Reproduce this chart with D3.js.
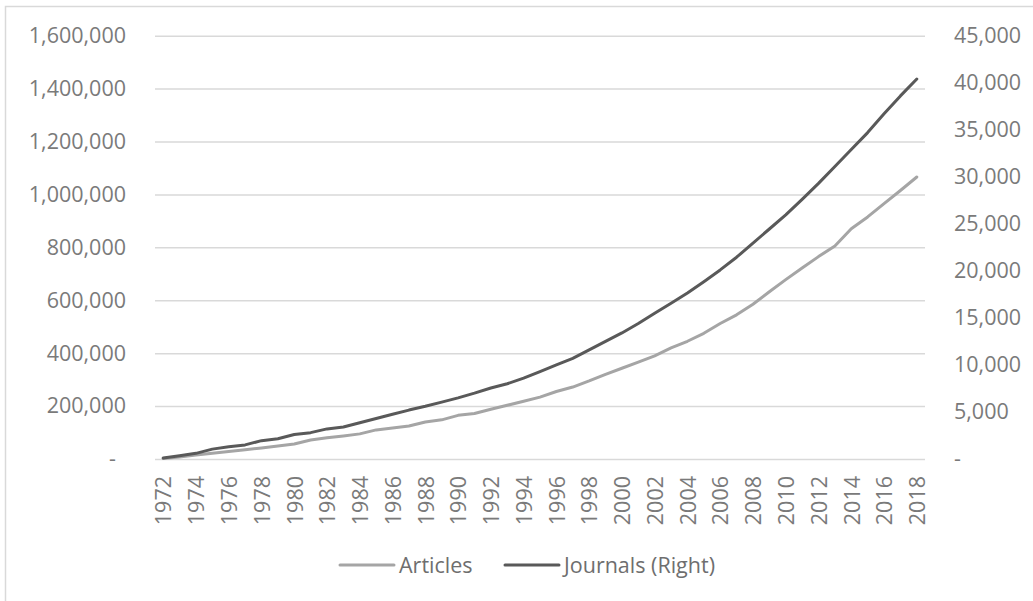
<!DOCTYPE html>
<html><head><meta charset="utf-8">
<script src="https://cdn.jsdelivr.net/npm/d3@7"></script>
<style>
html,body{margin:0;padding:0;background:#fff;}
svg{display:block;font-family:"Open Sans",sans-serif;}
</style></head>
<body>
<svg id="chart" width="1033" height="601"></svg>
<script>
const years = d3.range(1972, 2019);
const articles = [2000, 8000, 15000, 22000, 28000, 35000, 42000, 49000, 57000, 72000,
  80000, 87000, 95000, 110000, 117000, 125000, 140000, 148000, 165000, 172000,
  188000, 203000, 218000, 234000, 255000, 272000, 295000, 320000, 343000, 366000,
  390000, 420000, 445000, 475000, 512000, 545000, 585000, 632000, 678000, 722000,
  765000, 805000, 870000, 915000, 965000, 1015000, 1066000];
const journals = [100, 350, 600, 1050, 1300, 1500, 1950, 2150, 2600, 2800,
  3200, 3400, 3850, 4300, 4750, 5200, 5600, 6050, 6500, 7000,
  7550, 8000, 8600, 9300, 10000, 10700, 11600, 12500, 13400, 14400,
  15500, 16550, 17650, 18850, 20100, 21450, 22950, 24450, 25950, 27600,
  29300, 31100, 32900, 34700, 36700, 38600, 40400];
const leftTicks = [0, 200000, 400000, 600000, 800000, 1000000, 1200000, 1400000, 1600000];
const rightTicks = [0, 5000, 10000, 15000, 20000, 25000, 30000, 35000, 40000, 45000];
const xTickYears = years.filter(y => (y - 1972) % 2 === 0);
const seriesNames = ["Articles", "Journals (Right)"];
const seriesColors = ["#a5a5a5", "#595959"];

const svg = d3.select("#chart");
const L = 155, R = 925, T = 35.7, B = 459;
const labelColor = "#7a7a7a";
const fs = 21.5;

// chart border (partially cropped)
svg.append("path").attr("d", `M5.5,601 V6.5 H1033`).attr("fill", "none")
  .attr("stroke", "#d9d9d9").attr("stroke-width", 1.5);

const x = d3.scalePoint().domain(years).range([L, R]).padding(0.5);
const yL = d3.scaleLinear().domain([0, 1600000]).range([B, T]);
const yR = d3.scaleLinear().domain([0, 45000]).range([B, T]);
const fmt = d3.format(",");

// gridlines
const grid = svg.append("g").attr("transform", `translate(${L},0)`)
  .call(d3.axisLeft(yL).tickValues(leftTicks).tickSize(-(R - L)).tickFormat(""));
grid.select(".domain").remove();
grid.selectAll("line").attr("stroke", "#d9d9d9").attr("stroke-width", 1.5);

// left axis labels
const gl = svg.append("g").attr("transform", `translate(126,0)`)
  .call(d3.axisLeft(yL).tickValues(leftTicks).tickSize(0).tickPadding(0)
    .tickFormat(d => d === 0 ? "-" : fmt(d)));
gl.select(".domain").remove();
gl.selectAll("text").attr("fill", labelColor).style("font-size", fs + "px")
  .style("font-family", "'Open Sans',sans-serif")
  .attr("dx", d => d === 0 ? -10 : 0);

// right axis labels
const gr = svg.append("g").attr("transform", `translate(954,0)`)
  .call(d3.axisRight(yR).tickValues(rightTicks).tickSize(0).tickPadding(0)
    .tickFormat(d => d === 0 ? "-" : fmt(d)));
gr.select(".domain").remove();
gr.selectAll("text").attr("fill", labelColor).style("font-size", fs + "px")
  .style("font-family", "'Open Sans',sans-serif");

// x axis labels
const gx = svg.append("g").attr("transform", `translate(0,${B})`)
  .call(d3.axisBottom(x).tickValues(xTickYears).tickSize(0).tickFormat(d3.format("d")));
gx.select(".domain").remove();
gx.selectAll("text").attr("fill", labelColor).style("font-size", fs + "px")
  .style("font-family", "'Open Sans',sans-serif")
  .attr("text-anchor", "end")
  .attr("transform", "rotate(-90)")
  .attr("x", -17).attr("y", 0).attr("dy", "0.36em");

// lines
const lineA = d3.line().x((d, i) => x(years[i])).y(d => yL(d));
const lineJ = d3.line().x((d, i) => x(years[i])).y(d => yR(d));
svg.append("path").datum(articles).attr("d", lineA).attr("fill", "none")
  .attr("stroke", seriesColors[0]).attr("stroke-width", 3).attr("stroke-linejoin", "round").attr("stroke-linecap", "round");
svg.append("path").datum(journals).attr("d", lineJ).attr("fill", "none")
  .attr("stroke", seriesColors[1]).attr("stroke-width", 3).attr("stroke-linejoin", "round").attr("stroke-linecap", "round");

// legend
const legX = [340, 505];
const leg = svg.append("g");
seriesNames.forEach((name, i) => {
  leg.append("line").attr("x1", legX[i]).attr("x2", legX[i] + 54).attr("y1", 565).attr("y2", 565)
    .attr("stroke", seriesColors[i]).attr("stroke-width", 3).attr("stroke-linecap", "round");
  leg.append("text").attr("x", legX[i] + 59).attr("y", 565).attr("dy", "0.36em")
    .attr("fill", "#6e6e6e").style("font-size", fs + "px").text(name);
});
</script>
</body></html>
